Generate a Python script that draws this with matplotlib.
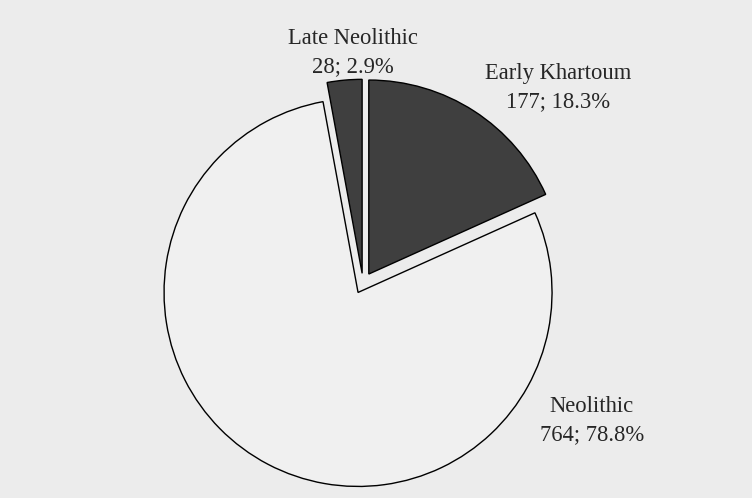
import numpy as np
import matplotlib
matplotlib.use('Agg')
from matplotlib import pyplot as plt

# sherd counts per period
periods = ["Early Khartoum", "Neolithic", "Late Neolithic"]
counts = [177, 764, 28]
percents = [18.3, 78.8, 2.9]

fills = ["#3f3f3f", "#f0f0f0", "#3f3f3f"]
explode = [0.055, 0.055, 0.05]

# where the labels sit (data units, pie radius = 1)
label_xy = [(1.005, 1.005), (1.18, -0.71), (-0.05, 1.19)]

fig = plt.figure(figsize=(7.52, 4.98), dpi=100)
fig.patch.set_facecolor("#ececec")
ax = fig.add_axes([0, 0, 1, 1])
ax.set_facecolor("#ececec")

wedges, _ = ax.pie(counts, colors=fills, explode=explode, startangle=90,
                   counterclock=False, radius=1.0,
                   wedgeprops=dict(edgecolor="black", linewidth=1.0))

for name, n, p, (x, y) in zip(periods, counts, percents, label_xy):
    ax.text(x, y, f"{name}\n{n}; {p}%", ha="center", va="center",
            fontsize=16.3, family="Liberation Serif", color="#262626",
            linespacing=1.45)

# 194 px per unit, pie centre at (363, 283) px from top-left
s = 194.0
x0 = -363 / s
y1 = 283 / s
ax.set_xlim(x0, x0 + 752 / s)
ax.set_ylim(y1 - 498 / s, y1)
ax.set_aspect("equal")
ax.axis("off")

fig.savefig("out.png", dpi=100, facecolor=fig.get_facecolor())
